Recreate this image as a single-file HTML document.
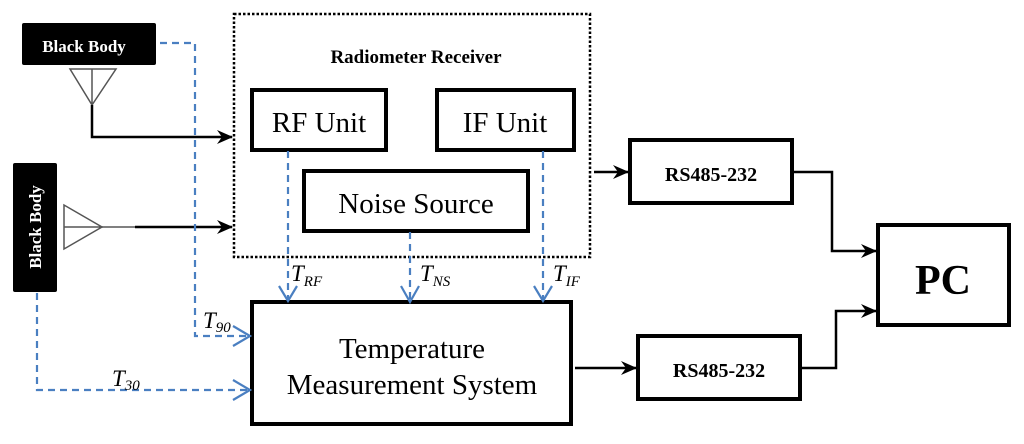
<!DOCTYPE html>
<html><head><style>
html,body{margin:0;padding:0;background:#fff;}
svg text{font-family:"Liberation Serif",serif;}
</style></head><body>
<svg width="1024" height="439" viewBox="0 0 1024 439" xmlns="http://www.w3.org/2000/svg">
<defs>
<marker id="ab" markerWidth="16" markerHeight="14" refX="15" refY="7" orient="auto" markerUnits="userSpaceOnUse"><path d="M0,0 L16,7 L0,14 L5,7 Z" fill="#000"/></marker>
</defs>
<rect x="234" y="14" width="356" height="243" fill="none" stroke="#000" stroke-width="2.5" stroke-dasharray="2.5,2"/>
<text x="416" y="63" font-size="19" font-weight="bold" text-anchor="middle">Radiometer Receiver</text>
<rect x="252" y="90" width="134" height="60" fill="none" stroke="#000" stroke-width="4"/>
<text x="319" y="132" font-size="29" text-anchor="middle">RF Unit</text>
<rect x="437" y="90" width="137" height="60" fill="none" stroke="#000" stroke-width="4"/>
<text x="505" y="132" font-size="29" text-anchor="middle">IF Unit</text>
<rect x="304" y="171" width="224" height="60" fill="none" stroke="#000" stroke-width="4"/>
<text x="416" y="213" font-size="29" text-anchor="middle">Noise Source</text>
<rect x="252" y="302" width="319" height="122" fill="none" stroke="#000" stroke-width="4"/>
<text x="412" y="358" font-size="29" text-anchor="middle">Temperature</text>
<text x="412" y="394" font-size="29" text-anchor="middle">Measurement System</text>
<rect x="630" y="140" width="162" height="63" fill="none" stroke="#000" stroke-width="4"/>
<text x="711" y="181" font-size="20" font-weight="bold" text-anchor="middle">RS485-232</text>
<rect x="638" y="336" width="162" height="63" fill="none" stroke="#000" stroke-width="4"/>
<text x="719" y="377" font-size="20" font-weight="bold" text-anchor="middle">RS485-232</text>
<rect x="878" y="225" width="131" height="100" fill="none" stroke="#000" stroke-width="4"/>
<text x="943" y="294" font-size="42" font-weight="bold" text-anchor="middle">PC</text>
<rect x="22" y="23" width="134" height="42" rx="2" fill="#000"/>
<text x="84" y="52" font-size="17" font-weight="bold" fill="#fff" text-anchor="middle">Black Body</text>
<rect x="13" y="163" width="44" height="129" rx="2" fill="#000"/>
<text transform="translate(41,227) rotate(-90)" font-size="17" font-weight="bold" fill="#fff" text-anchor="middle">Black Body</text>
<path d="M70,69 L116,69 L92,105 Z M92,69 L92,105" fill="none" stroke="#555" stroke-width="1.5"/>
<path d="M64,205 L64,249 L102,227 Z M64,227 L102,227" fill="none" stroke="#555" stroke-width="1.5"/>
<path d="M92,105 L92,137 L232,137" fill="none" stroke="#000" stroke-width="2.5" marker-end="url(#ab)"/>
<path d="M102,227 L135,227" stroke="#000" stroke-width="1"/>
<path d="M135,227 L232,227" stroke="#000" stroke-width="2.5" marker-end="url(#ab)"/>
<path d="M594,172 L628,172" stroke="#000" stroke-width="2.5" marker-end="url(#ab)"/>
<path d="M575,368 L636,368" stroke="#000" stroke-width="2.5" marker-end="url(#ab)"/>
<path d="M793,172 L832,172 L832,251 L876,251" fill="none" stroke="#000" stroke-width="2.5" marker-end="url(#ab)"/>
<path d="M800,368 L836,368 L836,311 L876,311" fill="none" stroke="#000" stroke-width="2.5" marker-end="url(#ab)"/>
<g fill="none" stroke="#4a7fc1" stroke-width="2.2" stroke-dasharray="7,5">
<path d="M160,43 L195,43 L195,336 L248,336"/>
<path d="M37,293 L37,390 L248,390"/>
<path d="M288,151 L288,300"/>
<path d="M410,232 L410,300"/>
<path d="M543,151 L543,300"/>
</g>
<g fill="none" stroke="#4a7fc1" stroke-width="2.2">
<path d="M233,326 L250,336 L233,346"/>
<path d="M233,380 L250,390 L233,400"/>
<path d="M279,286 L288,301 L297,286"/>
<path d="M401,286 L410,302 L419,286"/>
<path d="M534,286 L543,301 L552,286"/>
</g>
<g font-style="italic" font-size="23">
<text x="203" y="328">T<tspan font-size="15" dy="4">90</tspan></text>
<text x="112" y="386">T<tspan font-size="15" dy="4">30</tspan></text>
<text x="291" y="281">T<tspan font-size="15" dy="5">RF</tspan></text>
<text x="420" y="281">T<tspan font-size="15" dy="5">NS</tspan></text>
<text x="553" y="281">T<tspan font-size="15" dy="5">IF</tspan></text>
</g>
</svg>
</body></html>
